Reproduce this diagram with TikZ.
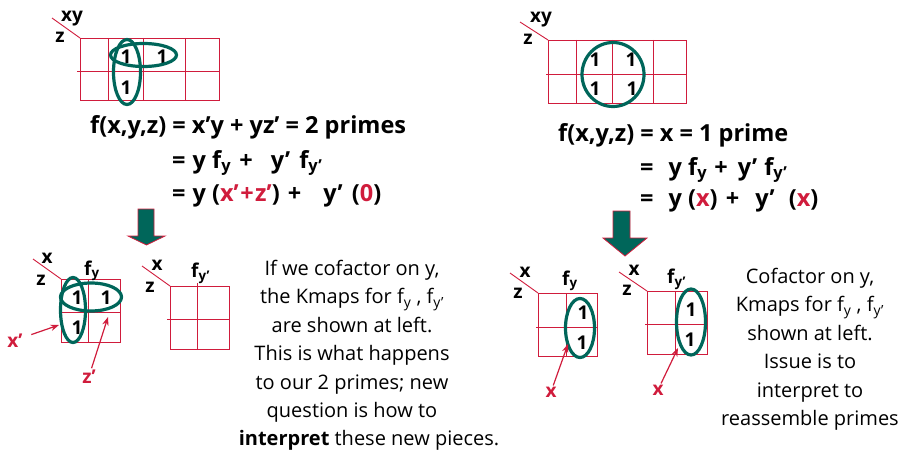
\documentclass[tikz,border=0pt]{standalone}
\usepackage{fontspec}
\setmainfont{Open Sans}
\usepackage{xcolor}
\definecolor{kred}{HTML}{D01C3C}
\definecolor{kteal}{HTML}{00665A}
\usetikzlibrary{arrows.meta,positioning}
\tikzset{
  kgrid/.style={draw=kred, line width=0.9pt},
  kloop/.style={draw=kteal, line width=3.2pt},
  kone/.style={font=\fontsize{19}{19}\selectfont\bfseries, inner sep=0pt},
  klab/.style={font=\fontsize{19}{19}\selectfont\bfseries, inner sep=0pt, anchor=base},
  rlab/.style={klab, text=kred, inner sep=1pt},
  eqn/.style={font=\fontsize{23.5}{23.5}\selectfont\bfseries, inner sep=0pt, anchor=base west},
  note/.style={font=\fontsize{20}{28.4}\selectfont, align=center, inner sep=0pt, anchor=north},
  ar/.style={-{Stealth[length=3mm]}, draw=kred, line width=1.2pt},
  downar/.style={fill=kteal, draw=kred, line width=0.8pt},
}
\begin{document}
\begin{tikzpicture}[x=1pt, y=-1pt]
  \useasboundingbox (0,0) rectangle (904,452);

  % top left kmap
  \draw[kgrid] (80,38) rectangle (219,100);
  \foreach \gx in {108,143,185} \draw[kgrid] (\gx,38) -- (\gx,100);
  \draw[kgrid] (77,71) -- (219,71);
  \draw[kgrid] (52,18) -- (80,38);
  \node[klab] (xyA) at (72,22) {xy};
  \node[klab] (zA) at (60,42) {z};
  \node[kone] (oA1) at (126,57) {1};
  \node[kone] (oA2) at (162,57) {1};
  \node[kone] (oA3) at (126,88) {1};
  \draw[kloop] (127,72) ellipse [x radius=13.5, y radius=32.5];
  \draw[kloop] (143.5,55) ellipse [x radius=33, y radius=11.5];

  % top right kmap
  \draw[kgrid] (548,40) rectangle (686,103);
  \foreach \gx in {576,612,653} \draw[kgrid] (\gx,40) -- (\gx,103);
  \draw[kgrid] (546,74) -- (686,74);
  \draw[kgrid] (520,22) -- (548,40);
  \node[klab] (xyB) at (541,23) {xy};
  \node[klab] (zB) at (528,45) {z};
  \node[kone] (oB1) at (595,60) {1};
  \node[kone] (oB2) at (631,60) {1};
  \node[kone] (oB3) at (595,89) {1};
  \node[kone] (oB4) at (632,89) {1};
  \draw[kloop] (613,74.5) ellipse [x radius=31, y radius=32];

  % equations
  \node[eqn] (lq1) at (90,133) {f(x,y,z) = x’y + yz’ = 2 primes};
  \node[eqn] (lq2) at (172,168) {=\hspace{1pt} y f\textsubscript{y}\hspace{2pt} +\hspace{12pt} y’\hspace{3pt} f\textsubscript{y’}};
  \node[eqn] (lq3) at (172,201) {=\hspace{1pt} y (\textcolor{kred}{x’\hspace{1.5pt}+\hspace{1.5pt}z’})\hspace{2pt} +\hspace{16pt} y’\hspace{3pt} (\textcolor{kred}{0})};
  \node[eqn] (rq1) at (558,141) {f(x,y,z) = x = 1 prime};
  \node[eqn] (rq2) at (640,175) {=\hspace{9pt} y f\textsubscript{y}\hspace{1pt} +\hspace{4pt} y’\hspace{1pt} f\textsubscript{y’}};
  \node[eqn] (rq3) at (640,206) {=\hspace{9pt} y (\textcolor{kred}{x})\hspace{2pt} +\hspace{10pt} y’\hspace{8pt} (\textcolor{kred}{x})};

  % down arrows
  \draw[downar] (138,209) -- (154,209) -- (154,236) -- (165,236) -- (146.5,245)
    -- (128,236) -- (138,236) -- cycle;
  \draw[downar] (613,211) -- (630,211) -- (630,238) -- (647,238) -- (625,256)
    -- (603,238) -- (613,238) -- cycle;

  % bottom left kmaps
  \draw[kgrid] (61,279) rectangle (120,342);
  \draw[kgrid] (88,279) -- (88,342);
  \draw[kgrid] (61,312) -- (120,312);
  \draw[kgrid] (33,259) -- (61,279);
  \node[klab] (xC) at (47,263) {x};
  \node[klab] (zC) at (41,285) {z};
  \node[klab, anchor=base west] (fC) at (84,275) {f\textsubscript{y}};
  \node[kone] (oC1) at (77,298) {1};
  \node[kone] (oC2) at (106,298) {1};
  \node[kone] (oC3) at (77,328) {1};
  \draw[kloop] (73,310) ellipse [x radius=12.5, y radius=32.5];
  \draw[kloop] (91,297) ellipse [x radius=30.5, y radius=14];
  \node[rlab] (xpC) at (15,347) {x’};
  \coordinate (xpTip) at (59,325);
  \draw[ar, shorten <=8pt] (xpC) -- (xpTip);
  \node[rlab] (zpC) at (89,383) {z’};
  \coordinate (zpTip) at (108,317);
  \draw[ar] (zpC) -- (zpTip);

  \draw[kgrid] (170,286) rectangle (229,349);
  \draw[kgrid] (197,283) -- (197,349);
  \draw[kgrid] (167,319) -- (229,319);
  \draw[kgrid] (142,266) -- (170,286);
  \node[klab] (xD) at (157,270) {x};
  \node[klab] (zD) at (150,292) {z};
  \node[klab, anchor=base west] (fD) at (191,277) {f\textsubscript{y’}};

  \node[note] (lnote) at (352,260) {If we cofactor on y,\\the Kmaps for f\textsubscript{y} , f\textsubscript{y’}\\are shown at left.\\This is what happens\\to our 2 primes; new\\question is how to\\\hspace*{34pt}\textbf{interpret} these new pieces.};

  % bottom right kmaps
  \draw[kgrid] (538,293) rectangle (597,356);
  \draw[kgrid] (566,293) -- (566,356);
  \draw[kgrid] (536,327) -- (597,327);
  \draw[kgrid] (510,273) -- (538,293);
  \node[klab] (xE) at (525,277) {x};
  \node[klab] (zE) at (518,298) {z};
  \node[klab, anchor=base west] (fE) at (562,285) {f\textsubscript{y}};
  \node[kone] (oE1) at (583,313) {1};
  \node[kone] (oE2) at (582,343) {1};
  \draw[kloop] (580,328) ellipse [x radius=14.5, y radius=29.5];
  \node[rlab] (xlE) at (551,397) {x};
  \coordinate (xlETip) at (568,344);
  \draw[ar] (xlE) -- (xlETip);

  \draw[kgrid] (647,291) rectangle (707,354);
  \draw[kgrid] (675,291) -- (675,354);
  \draw[kgrid] (645,324) -- (707,324);
  \draw[kgrid] (619,272) -- (647,291);
  \node[klab] (xF) at (634,275) {x};
  \node[klab] (zF) at (627,295) {z};
  \node[klab, anchor=base west] (fF) at (667,283) {f\textsubscript{y’}};
  \node[kone] (oF1) at (691,310) {1};
  \node[kone] (oF2) at (690,340) {1};
  \draw[kloop] (691,322) ellipse [x radius=14.5, y radius=33];
  \node[rlab] (xlF) at (658,395) {x};
  \coordinate (xlFTip) at (678,348);
  \draw[ar] (xlF) -- (xlFTip);

  \node[note] (rnote) at (810,268) {Cofactor on y,\\Kmaps for f\textsubscript{y} , f\textsubscript{y’}\\shown at left.\\Issue is to\\interpret to\\reassemble primes};
\end{tikzpicture}
\end{document}
